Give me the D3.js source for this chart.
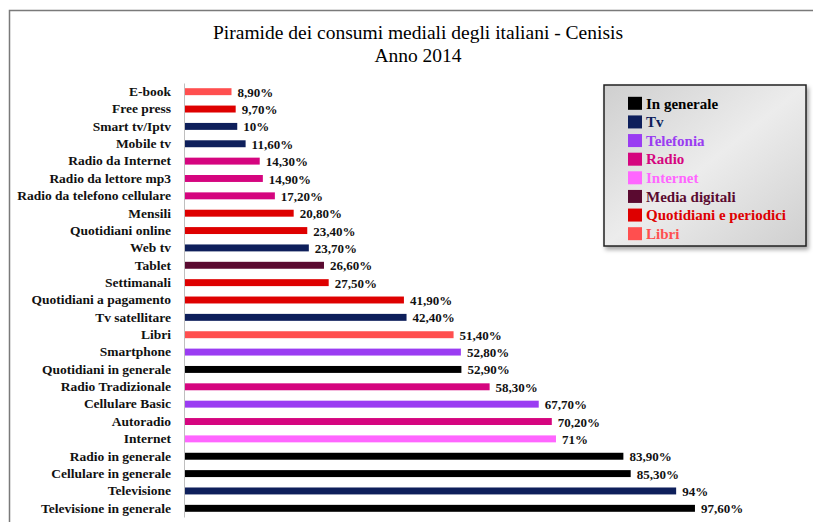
<!DOCTYPE html>
<html>
<head>
<meta charset="utf-8">
<script src="https://cdn.jsdelivr.net/npm/d3@7"></script>
<style>
  body { margin: 0; background: #fff; }
</style>
</head>
<body>
<script>
// chart data
const labels = ["E-book", "Free press", "Smart tv/Iptv", "Mobile tv", "Radio da Internet",
  "Radio da lettore mp3", "Radio da telefono cellulare", "Mensili", "Quotidiani online",
  "Web tv", "Tablet", "Settimanali", "Quotidiani a pagamento", "Tv satellitare", "Libri",
  "Smartphone", "Quotidiani in generale", "Radio Tradizionale", "Cellulare Basic",
  "Autoradio", "Internet", "Radio in generale", "Cellulare in generale", "Televisione",
  "Televisione in generale"];
const values = [8.9, 9.7, 10, 11.6, 14.3, 14.9, 17.2, 20.8, 23.4, 23.7, 26.6, 27.5, 41.9,
  42.4, 51.4, 52.8, 52.9, 58.3, 67.7, 70.2, 71, 83.9, 85.3, 94, 97.6];
const groups = ["Libri", "Quotidiani e periodici", "Tv", "Tv", "Radio", "Radio", "Radio",
  "Quotidiani e periodici", "Quotidiani e periodici", "Tv", "Media digitali",
  "Quotidiani e periodici", "Quotidiani e periodici", "Tv", "Libri", "Telefonia",
  "In generale", "Radio", "Telefonia", "Radio", "Internet", "In generale", "In generale",
  "Tv", "In generale"];
const legendNames = ["In generale", "Tv", "Telefonia", "Radio", "Internet",
  "Media digitali", "Quotidiani e periodici", "Libri"];
const legendColors = ["#000000", "#0e1f5b", "#9a3cf2", "#d5057f", "#ff66ff",
  "#5a0a30", "#de0000", "#ff4f4f"];

const W = 813, H = 522;
const FONT = "'Liberation Serif', 'Times New Roman', serif";
const color = d3.scaleOrdinal(legendNames, legendColors);

const svg = d3.select("body").append("svg")
  .attr("width", W).attr("height", H);

// frame
svg.append("path")
  .attr("d", `M9.5,${H} V10.5 H${W}`)
  .attr("fill", "none").attr("stroke", "#7a7a7a").attr("stroke-width", 1.5);

// title
svg.append("text").attr("x", 418).attr("y", 39).attr("text-anchor", "middle")
  .style("font-family", FONT).style("font-size", "19.5px").attr("fill", "#000")
  .text("Piramide dei consumi mediali degli italiani - Cenisis");
svg.append("text").attr("x", 418).attr("y", 62).attr("text-anchor", "middle")
  .style("font-family", FONT).style("font-size", "19.5px").attr("fill", "#000")
  .text("Anno 2014");

const x = d3.scaleLinear().domain([0, 100]).range([185, 707.5]);
const y = d3.scaleBand().domain(labels).range([83, 517]).paddingInner(0.6).paddingOuter(0.3);

// axis
const yAxis = svg.append("g").attr("transform", `translate(${x(0) - 1},0)`)
  .call(d3.axisLeft(y).tickSize(0).tickPadding(13));
yAxis.select(".domain").attr("stroke", "#bfbfbf");
yAxis.selectAll("text")
  .style("font-family", FONT)
  .style("font-size", "13.5px").style("font-weight", "bold").attr("fill", "#111");

const rows = labels.map((l, i) => ({ label: l, value: values[i], group: groups[i] }));

svg.append("g").selectAll("rect").data(rows).join("rect")
  .attr("x", x(0))
  .attr("y", d => y(d.label))
  .attr("width", d => x(d.value) - x(0))
  .attr("height", y.bandwidth())
  .attr("fill", d => color(d.group));

const fmt = v => (Number.isInteger(v) ? v : v.toFixed(2).replace(".", ",")) + "%";
svg.append("g").selectAll("text").data(rows).join("text")
  .attr("x", d => x(d.value) + 6)
  .attr("y", d => y(d.label) + y.bandwidth() / 2 + 0.5)
  .attr("dy", "0.35em")
  .style("font-family", FONT)
  .style("font-size", "13px").style("font-weight", "bold").attr("fill", "#111")
  .text(d => fmt(d.value));

// legend
const defs = svg.append("defs");
const grad = defs.append("linearGradient").attr("id", "lg")
  .attr("x1", 0).attr("y1", 0).attr("x2", 1).attr("y2", 1);
grad.append("stop").attr("offset", 0).attr("stop-color", "#cfcfcf");
grad.append("stop").attr("offset", 0.5).attr("stop-color", "#ececec");
grad.append("stop").attr("offset", 1).attr("stop-color", "#cfcfcf");
const filt = defs.append("filter").attr("id", "sh");
filt.append("feDropShadow").attr("dx", 2).attr("dy", 3).attr("stdDeviation", 2)
  .attr("flood-color", "#000").attr("flood-opacity", 0.35);

const lg = svg.append("g").attr("transform", "translate(604,85)");
lg.append("rect").attr("width", 202).attr("height", 161)
  .attr("fill", "url(#lg)").attr("stroke", "#222").attr("stroke-width", 1.5)
  .attr("filter", "url(#sh)");
const ly = d3.scaleBand().domain(legendNames).range([9, 158]);
const li = lg.selectAll("g.item").data(legendNames).join("g").attr("class", "item")
  .attr("transform", d => `translate(24,${ly(d) + ly.bandwidth() / 2})`);
li.append("rect").attr("x", 0).attr("y", -6.5).attr("width", 14).attr("height", 13)
  .attr("fill", d => color(d));
li.append("text").attr("x", 18).attr("dy", "0.35em")
  .style("font-family", FONT)
  .style("font-size", "15px").style("font-weight", "bold")
  .attr("fill", d => color(d))
  .text(d => d);
</script>
</body>
</html>
